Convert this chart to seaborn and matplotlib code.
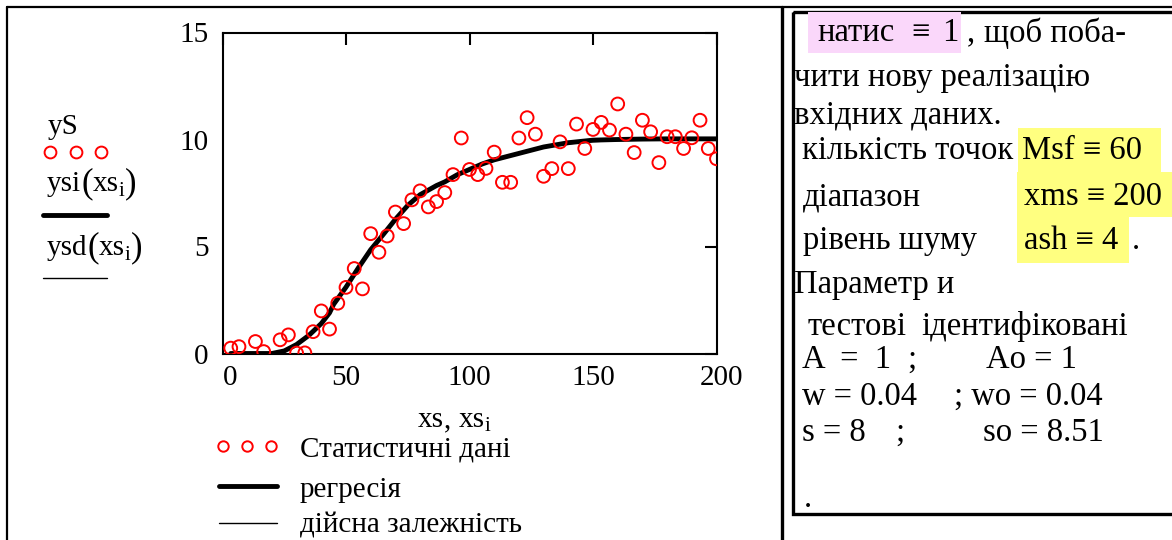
import matplotlib
matplotlib.use("Agg")
import matplotlib.pyplot as plt
import matplotlib.transforms as mtransforms
import seaborn as sns
import pandas as pd
from matplotlib.patches import Rectangle
from matplotlib.lines import Line2D

# ---- data -------------------------------------------------------------
xs_i = [3.33, 6.67, 10.0, 13.33, 16.67, 20.0, 23.33, 26.67, 30.0, 33.33,
        36.67, 40.0, 43.33, 46.67, 50.0, 53.33, 56.67, 60.0, 63.33, 66.67,
        70.0, 73.33, 76.67, 80.0, 83.33, 86.67, 90.0, 93.33, 96.67, 100.0,
        103.33, 106.67, 110.0, 113.33, 116.67, 120.0, 123.33, 126.67, 130.0, 133.33,
        136.67, 140.0, 143.33, 146.67, 150.0, 153.33, 156.67, 160.0, 163.33, 166.67,
        170.0, 173.33, 176.67, 180.0, 183.33, 186.67, 190.0, 193.33, 196.67, 200.0]
ysi = [0.25, 0.32, -0.7, 0.56, 0.09, -0.5, 0.64, 0.87, 0.02, 0.03,
       1.02, 1.99, 1.14, 2.35, 3.09, 3.97, 3.02, 5.60, 4.73, 5.49,
       6.61, 6.07, 7.18, 7.60, 6.85, 7.10, 7.52, 8.36, 10.07, 8.60,
       8.36, 8.65, 9.41, 8.00, 8.00, 10.07, 11.02, 10.25, 8.28, 8.64,
       9.89, 8.64, 10.72, 9.58, 10.47, 10.80, 10.44, 11.66, 10.25, 9.39,
       10.90, 10.36, 8.92, 10.13, 10.13, 9.58, 10.08, 10.90, 9.58, 9.10]

# regression curve ysi(xs)
reg_x = [3.33, 10, 20, 25, 30, 35, 40, 43.33, 45, 50, 55, 60, 65, 70, 75, 80,
         86.67, 90, 95, 100, 105, 110, 120, 130, 140, 150, 160, 170, 180, 190, 200]
reg_y = [0.0, 0.0, 0.0, 0.12, 0.42, 0.85, 1.40, 1.90, 2.30, 3.10, 4.00, 4.85,
         5.55, 6.27, 6.92, 7.42, 7.85, 8.02, 8.35, 8.60, 8.85, 9.05, 9.35,
         9.65, 9.85, 9.97, 10.00, 10.02, 10.03, 10.03, 10.03]

# true dependence ysd(xs)
true_x = [3.33, 10, 20, 25, 30, 35, 40, 45, 50, 55, 60, 65, 70, 75, 80,
          90, 100, 110, 120, 130, 140, 150, 160, 170, 180, 190, 200]
true_y = [0.0, 0.0, 0.0, 0.10, 0.40, 0.85, 1.45, 2.30, 3.15, 4.02, 4.88,
          5.60, 6.30, 6.95, 7.45, 8.05, 8.62, 9.05, 9.36, 9.63, 9.80,
          9.90, 9.95, 9.97, 9.99, 10.0, 10.0]

x_ticks = [0, 50, 100, 150, 200]
y_ticks = [0, 5, 10, 15]

# ---- style ------------------------------------------------------------
sns.set_theme(style="white")
plt.rcParams["font.family"] = ["Liberation Serif", "DejaVu Serif"]
plt.rcParams["text.color"] = "black"

FS = 21      # plot labels and legend
FR = 23.5    # worksheet text on the right
W, H = 1172, 540
fig = plt.figure(figsize=(W / 100, H / 100), dpi=100)
fig.patch.set_facecolor("white")

# overlay in pixel units for the worksheet frame and text
ov = fig.add_axes([0, 0, 1, 1], zorder=0)
ov.set_xlim(0, W)
ov.set_ylim(H, 0)
ov.axis("off")

# ---- plot -------------------------------------------------------------
ax = fig.add_axes([222.5 / W, 1 - 353.5 / H, 494 / W, 321 / H], zorder=2)
pts = pd.DataFrame({"xs": xs_i, "ysi": ysi})
sns.lineplot(x=true_x, y=true_y, ax=ax, color="black", linewidth=1.0,
             estimator=None, sort=False, zorder=2)
sns.lineplot(x=reg_x, y=reg_y, ax=ax, color="black", linewidth=3.5,
             estimator=None, sort=False, zorder=3)
sns.scatterplot(data=pts, x="xs", y="ysi", ax=ax, marker="o", s=85,
                facecolor="none", edgecolor="red", linewidth=1.4,
                legend=False, zorder=4)

ax.set_xlim(0, 200)
ax.set_ylim(0, 15)
ax.set_xticks(x_ticks)
ax.set_yticks(y_ticks)
ax.set_xticklabels([str(t) for t in x_ticks])
ax.set_yticklabels([str(t) for t in y_ticks])
ax.set_xlabel("")
ax.set_ylabel("")
ax.tick_params(direction="in", length=8.5, width=1.5, top=True, right=True,
               labelsize=FS, colors="black")
ax.tick_params(axis="x", pad=8)
ax.tick_params(axis="y", pad=10)
for sp in ax.spines.values():
    sp.set_visible(True)
    sp.set_color("black")
    sp.set_linewidth(1.5)
ax.set_facecolor("white")

# first and last x labels sit slightly to the right of their ticks
xlabels = ax.get_xticklabels()
for lab, dx in ((xlabels[0], 8), (xlabels[-1], 5)):
    lab.set_transform(lab.get_transform() +
                      mtransforms.ScaledTranslation(dx / 100, 0, fig.dpi_scale_trans))

# ---- worksheet frame --------------------------------------------------
ov.add_line(Line2D([6.5, W], [6.5, 6.5], color="black", lw=1.6))
ov.add_line(Line2D([6.5, 6.5], [6.5, H], color="black", lw=1.6))
ov.add_line(Line2D([782, 782], [6.5, H], color="black", lw=2.4))
ov.add_patch(Rectangle((793, 12), W - 793 + 5, 502, fill=False,
                       edgecolor="black", lw=2.4))

# highlight boxes
ov.add_patch(Rectangle((808, 12), 153, 41, facecolor="#fad7fa", edgecolor="none"))
ov.add_patch(Rectangle((1018, 128), 143, 44, facecolor="#ffff80", edgecolor="none"))
ov.add_patch(Rectangle((1017, 172), 155, 45, facecolor="#ffff80", edgecolor="none"))
ov.add_patch(Rectangle((1017, 217), 112, 46, facecolor="#ffff80", edgecolor="none"))

renderer = fig.canvas.get_renderer()


def put(x, y, s, fs=FR, ha="left"):
    ov.text(x, y, s, fontsize=fs, va="center", ha=ha)


def chain(x, base, parts, ha="left"):
    """Write text pieces one after another on a common baseline.
    parts: (text, fontsize, drop) with drop in pixels below the baseline."""
    arts = []
    cur = x
    for s, fs, drop in parts:
        t = ov.text(cur, base + drop, s, fontsize=fs, va="baseline", ha="left")
        w = t.get_window_extent(renderer).width
        arts.append(t)
        cur += w
    if ha == "center":
        shift = (cur - x) / 2
        for t in arts:
            px, py = t.get_position()
            t.set_position((px - shift, py))


# ---- left-panel labels -----------------------------------------------
put(48, 127, "yS", fs=FS)
for cx in (50, 76, 101):
    ov.plot([cx], [152], marker="o", ms=8.5, mfc="none", mec="red", mew=1.4)
chain(47, 191, [("ysi", FS, 0), ("(", 25, 1), ("xs", FS, 0), ("i", 15, 5), (")", 25, 1)])
ov.add_line(Line2D([43, 107], [215, 215], color="black", lw=3.5))
chain(47, 255, [("ysd", FS, 0), ("(", 25, 1), ("xs", FS, 0), ("i", 15, 5), (")", 25, 1)])
ov.add_line(Line2D([43, 107], [278, 278], color="black", lw=1.0))

chain(454, 427, [("xs", FS, 0), (", ", FS, 0), ("xs", FS, 0), ("i", 15, 4)], ha="center")

# legend under the plot
for cx in (223, 247, 271):
    ov.plot([cx], [446], marker="o", ms=7.5, mfc="none", mec="red", mew=1.4)
put(300, 449, "Статистичні дані", fs=FS)
ov.add_line(Line2D([219, 277], [486, 486], color="black", lw=3.5))
put(300, 490, "регресія", fs=FS)
ov.add_line(Line2D([219, 277], [523, 523], color="black", lw=1.0))
put(300, 526, "дійсна залежність", fs=FS)

# ---- right panel ------------------------------------------------------
put(817, 33, "натис")
put(911, 33, "≡")
put(942, 33, "1")
put(967, 33, ",")
put(984, 33, "щоб поба-")
put(794, 78, "чити нову реалізацію")
put(794, 115, "вхідних даних.")
put(802, 151, "кількість точок")
put(1022, 151, "Msf ≡ 60")
put(803, 197, "діапазон")
put(1024, 197, "xms ≡ 200")
put(803, 241, "рівень шуму")
put(1024, 241, "ash ≡ 4")
put(1132, 241, ".")
put(794, 285, "Параметр и")
put(808, 327, "тестові")
put(921, 327, "ідентифіковані")
put(802, 360, "A  =  1")
put(907, 360, ";")
put(986, 360, "Ao = 1")
put(802, 397, "w = 0.04")
put(954, 397, "; wo = 0.04")
put(802, 433, "s = 8")
put(895, 433, ";")
put(983, 433, "so = 8.51")
put(804, 499, ".")

fig.savefig("out.png", dpi=100, facecolor="white")
